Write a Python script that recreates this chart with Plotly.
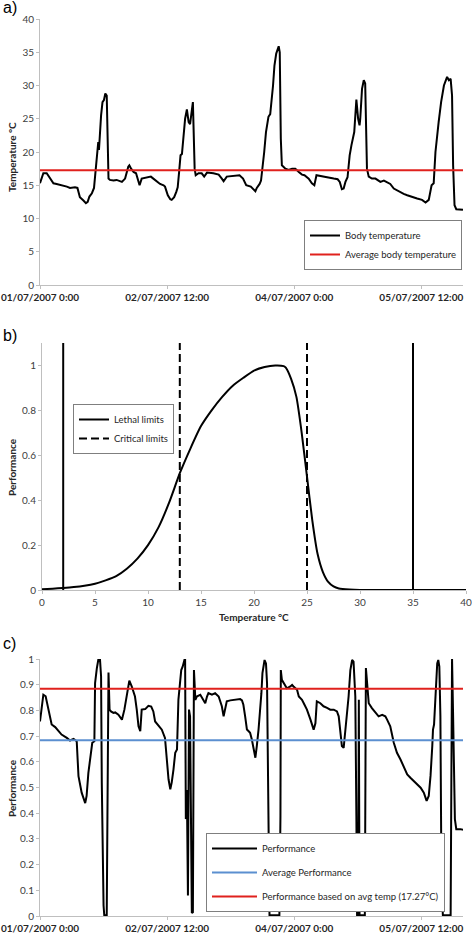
import pandas as pd
import plotly.graph_objects as go

# --- a) body temperature trace (hours after 01/07/2007 0:00, deg C)
TEMP_HOURS = [
    0.0, 0.95, 1.9, 2.8, 3.8, 4.7, 6.6, 7.6, 8.5, 9.9, 10.6, 11.3, 12.3, 13.0, 13.5,
    14.0, 14.7, 15.1, 15.3, 15.8, 16.3, 16.5, 16.7, 17.0, 17.3, 17.7, 18.1, 18.5, 18.9,
    19.4, 19.8, 20.8, 21.7, 23.2, 24.1, 25.0, 25.3, 25.8, 26.5, 27.2, 27.7, 28.2, 28.8,
    30.2, 31.4, 32.1, 33.1, 34.0, 35.0, 35.4, 36.2, 36.9, 37.3, 38.0, 38.6, 39.0, 39.4,
    39.8, 40.2, 40.6, 41.1, 41.6, 42.1, 42.5, 43.0, 43.3, 43.8, 44.1, 44.9, 45.8, 46.5,
    47.3, 49.1, 50.6, 51.5, 52.0, 52.9, 54.3, 55.3, 56.5, 57.5, 58.4, 59.7, 61.0, 61.4,
    62.2, 62.6, 63.0, 63.5, 64.0, 64.7, 65.2, 65.7, 66.0, 66.4, 66.9, 67.6, 67.9, 68.2,
    68.5, 69.5, 70.4, 71.4, 72.3, 73.3, 74.2, 74.9, 76.1, 77.0, 77.7, 78.3, 79.9, 81.3,
    83.2, 84.3, 84.9, 85.5, 86.0, 86.5, 87.1, 87.7, 88.2, 88.7, 89.0, 89.6, 90.1, 90.5,
    90.7, 91.2, 91.7, 92.1, 92.6, 93.1, 94.0, 95.0, 95.7, 96.4, 97.4, 98.3, 99.2, 100.2,
    101.1, 102.1, 103.0, 104.0, 105.4, 106.8, 108.2, 109.2, 110.1, 110.9, 111.5, 112.0,
    112.9, 113.6, 114.4, 115.3, 115.8, 116.3, 116.7, 117.0, 117.4, 117.9, 119.8,
]
BODY_TEMP = [
    15.3, 16.8, 16.8, 16.0, 15.3, 15.2, 15.0, 14.8, 14.6, 14.7, 14.6, 13.2, 12.7, 12.3, 12.5,
    13.3, 13.8, 14.4, 14.6, 17.5, 20.0, 21.5, 20.3, 24.0, 25.5, 27.5, 27.8, 28.8, 28.5,
    16.0, 15.8, 15.7, 15.8, 15.5, 16.0, 17.8, 18.0, 17.5, 17.0, 16.8, 15.8, 15.0, 16.0,
    16.2, 16.3, 16.0, 15.5, 15.2, 15.0, 14.8, 13.5, 12.9, 12.8, 13.2, 14.0, 14.7, 17.0,
    19.5, 19.7, 22.0, 25.0, 26.4, 24.5, 24.2, 26.5, 27.5, 17.5, 16.5, 16.8, 16.8, 16.3,
    16.9, 16.8, 16.6, 16.0, 15.6, 16.3, 16.4, 16.5, 16.5, 16.0, 15.0, 14.8, 14.1, 14.6,
    15.2, 15.7, 17.5, 20.0, 23.0, 25.3, 25.7, 28.0, 30.0, 33.0, 34.8, 35.9, 35.0, 22.0,
    18.0, 17.5, 17.3, 17.5, 17.5, 17.0, 16.6, 16.5, 16.0, 15.3, 15.0, 16.5, 16.4, 16.2,
    16.0, 15.9, 15.5, 14.4, 14.5, 15.5, 16.2, 19.5, 21.0, 22.5, 23.0, 27.9, 25.0, 24.0,
    25.0, 29.5, 30.8, 30.3, 17.5, 16.3, 16.0, 16.0, 15.7, 15.5, 15.7, 15.5, 15.2, 14.5,
    14.2, 13.9, 13.7, 13.5, 13.2, 13.0, 12.8, 12.4, 12.8, 15.0, 15.3, 20.0,
    24.5, 27.5, 30.0, 31.3, 30.8, 31.0, 28.5, 18.0, 12.0, 11.4, 11.3,
]
AVG_TEMP = 17.27

# --- b) thermal performance curve
TPC_TEMP = [0, 1, 2, 3, 4, 5, 6, 7, 8, 9, 10, 11, 12, 13, 14, 15, 16, 17, 18, 19, 20, 21,
            22, 22.8, 23, 23.5, 24, 24.5, 25, 25.5, 26, 26.5, 27, 27.5, 28, 29, 30, 35, 40]
TPC_PERF = [0.003, 0.006, 0.009, 0.013, 0.019, 0.028, 0.043, 0.062, 0.095, 0.14, 0.20, 0.28,
            0.39, 0.52, 0.63, 0.73, 0.80, 0.86, 0.91, 0.945, 0.977, 0.993, 1.0, 0.997, 0.99,
            0.94, 0.86, 0.70, 0.505, 0.31, 0.16, 0.08, 0.036, 0.016, 0.007, 0.002, 0.0, 0.0, 0.0]
LETHAL_LIMITS = [2, 35]
CRITICAL_LIMITS = [13, 25]

# --- c) performance over time
PERF_HOURS = [
    0.0, 0.95, 1.6, 2.4, 3.3, 4.3, 5.2, 6.1, 7.6, 8.5, 9.5, 10.4, 10.9, 11.8, 12.8, 13.2,
    13.7, 14.2, 14.8, 15.4, 15.6, 16.1, 16.5, 17.0, 17.3, 17.5, 17.8, 18.0, 18.2, 18.9,
    19.1, 19.4, 19.7, 20.1, 20.8, 21.3, 22.2, 23.2, 23.9, 24.6, 25.3, 26.0, 26.9, 27.4,
    27.9, 28.4, 28.8, 29.8, 30.7, 31.5, 32.1, 32.6, 33.6, 34.5, 35.4, 35.9, 36.4, 36.9,
    37.3, 37.8, 38.3, 38.8, 39.2, 40.0, 40.4, 40.9, 41.1, 41.3, 41.6, 41.9, 42.2, 42.5,
    43.0, 43.3, 43.6, 44.0, 44.4, 45.4, 46.3, 46.8, 47.3, 47.7, 48.7, 49.6, 50.6, 51.5,
    52.0, 52.5, 52.9, 53.9, 54.8, 55.8, 56.7, 57.2, 57.6, 58.1, 58.6, 59.1, 59.5, 60.0,
    61.0, 61.4, 61.9, 62.7, 63.0, 63.6, 64.0, 64.3, 64.5, 64.7, 65.0, 65.7, 67.8, 68.1,
    68.2, 68.5, 69.0, 69.9, 70.9, 71.4, 71.8, 72.8, 73.3, 74.2, 74.7, 75.6, 76.6, 77.5,
    78.0, 78.4, 79.4, 80.3, 81.3, 82.2, 83.2, 84.1, 84.6, 85.1, 85.5, 86.0, 86.5, 87.0,
    87.4, 87.9, 88.4, 88.8, 89.3, 89.6, 89.8, 90.1, 90.3, 90.5, 92.0, 92.3, 92.6, 93.1,
    94.0, 95.0, 95.9, 96.9, 97.8, 98.3, 99.2, 100.2, 101.1, 102.1, 103.0, 104.0, 104.9,
    105.9, 106.8, 107.8, 108.7, 109.5, 110.1, 110.6, 111.1, 111.3, 111.6, 112.0, 112.5,
    112.8, 113.1, 113.4, 113.7, 114.1, 116.3, 116.5, 116.7, 117.0, 117.5, 117.9, 119.1, 119.8,
]
PERFORMANCE = [
    0.757, 0.861, 0.855, 0.803, 0.745, 0.735, 0.719, 0.706, 0.693, 0.683, 0.689, 0.680, 0.544,
    0.480, 0.439, 0.467, 0.557, 0.609, 0.674, 0.680, 0.906, 0.964, 0.996, 0.996, 0.932, 0.519,
    0.066, 0.041, 0.003, 0.003, 0.39, 0.947, 0.803, 0.796, 0.790, 0.792, 0.783, 0.764, 0.803,
    0.867, 0.916, 0.893, 0.854, 0.803, 0.738, 0.719, 0.803, 0.805, 0.818, 0.815, 0.796, 0.757,
    0.738, 0.725, 0.693, 0.609, 0.532, 0.493, 0.519, 0.570, 0.635, 0.648, 0.841, 0.957, 0.970,
    0.996, 0.996, 0.377, 0.490, 0.080, 0.803, 0.777, 0.012, 0.015, 0.957, 0.841, 0.854, 0.861,
    0.841, 0.828, 0.854, 0.867, 0.861, 0.867, 0.854, 0.816, 0.777, 0.816, 0.835, 0.839, 0.841,
    0.841, 0.844, 0.839, 0.822, 0.777, 0.726, 0.719, 0.713, 0.687, 0.616, 0.661, 0.726, 0.867,
    0.945, 0.996, 0.983, 0.906, 0.648, 0.416, 0.003, 0.003, 0.003, 0.390, 0.957, 0.919, 0.906,
    0.886, 0.893, 0.899, 0.893, 0.880, 0.854, 0.841, 0.828, 0.803, 0.764, 0.725, 0.750, 0.835,
    0.828, 0.816, 0.810, 0.803, 0.803, 0.796, 0.777, 0.712, 0.661, 0.654, 0.725, 0.803, 0.854,
    0.957, 0.996, 0.990, 0.854, 0.390, 0.003, 0.003, 0.841, 0.003, 0.003, 0.965, 0.906, 0.828,
    0.809, 0.790, 0.777, 0.783, 0.777, 0.764, 0.738, 0.674, 0.635, 0.609, 0.583, 0.551, 0.538,
    0.525, 0.512, 0.499, 0.480, 0.448, 0.467, 0.545, 0.661, 0.725, 0.745, 0.880, 0.983,
    0.996, 0.970, 0.777, 0.132, 0.003, 0.003, 0.519, 1.0, 0.777, 0.377, 0.338, 0.338, 0.335,
]
AVG_PERFORMANCE = 0.684
PERF_AT_AVG_TEMP = 0.884

TIME_TICK_HOURS = [0, 36, 72, 108]
TIME_TICK_TEXT = ["01/07/2007 0:00", "02/07/2007 12:00", "04/07/2007 0:00", "05/07/2007 12:00"]

BASE = pd.Timestamp("2007-07-01 00:00")


def to_time(hours):
    return [BASE + pd.Timedelta(hours=h) for h in hours]


W, H = 472, 936
RED = "#e0211d"
BLUE = "#5b8fd0"
AXIS_GREY = "#bfbfbf"
FONT = "Lato"


def fx(px):
    return px / W


def fy(py):
    return 1 - py / H


def px_x(a, b):
    return [fx(a), fx(b)]


def px_y(top, bottom):
    return [fy(bottom), fy(top)]


temp_t = to_time(TEMP_HOURS)
perf_t = to_time(PERF_HOURS)
t_span = [temp_t[0], temp_t[-1]]

fig = go.Figure()

# panel a
fig.add_trace(go.Scatter(x=temp_t, y=BODY_TEMP, mode="lines", name="Body temperature",
                         line=dict(color="black", width=2), xaxis="x", yaxis="y", legend="legend"))
fig.add_trace(go.Scatter(x=t_span, y=[AVG_TEMP, AVG_TEMP], mode="lines",
                         name="Average body temperature",
                         line=dict(color=RED, width=2), xaxis="x", yaxis="y", legend="legend"))

# panel b
fig.add_trace(go.Scatter(x=TPC_TEMP, y=TPC_PERF, mode="lines", showlegend=False,
                         line=dict(color="black", width=2, shape="spline", smoothing=0.5),
                         xaxis="x2", yaxis="y2"))
lx, ly = [], []
for v in LETHAL_LIMITS:
    lx += [v, v, None]
    ly += [0, 1.1, None]
fig.add_trace(go.Scatter(x=lx, y=ly, mode="lines", name="Lethal limits",
                         line=dict(color="black", width=2), xaxis="x2", yaxis="y2",
                         legend="legend2"))
cx, cy = [], []
for v in CRITICAL_LIMITS:
    cx += [v, v, None]
    cy += [0, 1.1, None]
fig.add_trace(go.Scatter(x=cx, y=cy, mode="lines", name="Critical limits",
                         line=dict(color="black", width=2, dash="8px,4px"), xaxis="x2",
                         yaxis="y2", legend="legend2"))

# panel c
fig.add_trace(go.Scatter(x=perf_t, y=PERFORMANCE, mode="lines", name="Performance",
                         legendgroup="p1", line=dict(color="black", width=2),
                         xaxis="x3", yaxis="y3", legend="legend3"))
fig.add_trace(go.Scatter(x=t_span, y=[AVG_PERFORMANCE] * 2, mode="lines",
                         name="Average Performance", legendgroup="p2",
                         line=dict(color=BLUE, width=2), xaxis="x3", yaxis="y3",
                         legend="legend3"))
fig.add_trace(go.Scatter(x=t_span, y=[PERF_AT_AVG_TEMP] * 2, mode="lines",
                         name="Performance based on avg temp (17.27°C)", legendgroup="p3",
                         line=dict(color=RED, width=2), xaxis="x3", yaxis="y3",
                         legend="legend3"))

axis_common = dict(showline=True, linecolor=AXIS_GREY, linewidth=1, ticks="outside",
                   ticklen=3, tickcolor=AXIS_GREY, showgrid=False, zeroline=False,
                   automargin=False, tickfont=dict(family=FONT, size=10, color="#404040"))
time_ticks = dict(type="date", range=t_span, tickvals=to_time(TIME_TICK_HOURS),
                  ticktext=["<b>%s</b>" % s for s in TIME_TICK_TEXT],
                  tickfont=dict(family=FONT, size=10, color="#262626"))
legend_common = dict(xanchor="right", yanchor="top", bordercolor="#7f7f7f", borderwidth=1,
                     bgcolor="white", font=dict(family=FONT, size=9.5, color="#262626"))

fig.update_layout(
    width=W, height=H, margin=dict(l=0, r=0, t=0, b=0, autoexpand=False),
    plot_bgcolor="white", paper_bgcolor="white",
    font=dict(family=FONT, size=10, color="#404040"),
    xaxis={**axis_common, **time_ticks, "domain": px_x(40, 463), "anchor": "y"},
    yaxis={**axis_common, "domain": px_y(19, 285), "range": [0, 40], "dtick": 5, "anchor": "x"},
    xaxis2={**axis_common, "domain": px_x(42, 466), "range": [0, 40], "dtick": 5, "anchor": "y2"},
    yaxis2={**axis_common, "domain": px_y(343, 590), "range": [0, 1.1],
            "tickvals": [0, 0.2, 0.4, 0.6, 0.8, 1], "anchor": "x2"},
    xaxis3={**axis_common, **time_ticks, "domain": px_x(40, 463), "anchor": "y3"},
    yaxis3={**axis_common, "domain": px_y(659, 916), "range": [0, 1], "dtick": 0.1,
            "anchor": "x3"},
    legend={**legend_common, "x": fx(462), "y": fy(220), "itemwidth": 30},
    legend2={**legend_common, "x": fx(174), "y": fy(404), "itemwidth": 30},
    legend3={**legend_common, "x": fx(445), "y": fy(833), "itemwidth": 45,
             "tracegroupgap": 5},
)

# panel letters
for text, yp in [("a)", 8), ("b)", 335), ("c)", 643)]:
    fig.add_annotation(text=text, x=fx(1), y=fy(yp), xref="paper", yref="paper",
                       xanchor="left", yanchor="middle", showarrow=False,
                       font=dict(family="Liberation Sans", size=16, color="black"))

# axis titles
titles = [
    ("Temperature °C", 12, 157, -90),
    ("Performance", 12, 467, -90),
    ("Temperature °C", 254, 617, 0),
    ("Performance", 12, 788, -90),
]
for text, xp, yp, ang in titles:
    fig.add_annotation(text="<b>%s</b>" % text, x=fx(xp), y=fy(yp), xref="paper",
                       yref="paper", xanchor="center", yanchor="middle", showarrow=False,
                       textangle=ang, font=dict(family=FONT, size=10, color="#262626"))

# drop the page's default body margin so the 472x936 figure fills the window exactly
fig.write_html("out.html", config={"displayModeBar": False},
               post_script="document.body.style.margin = '0';")
